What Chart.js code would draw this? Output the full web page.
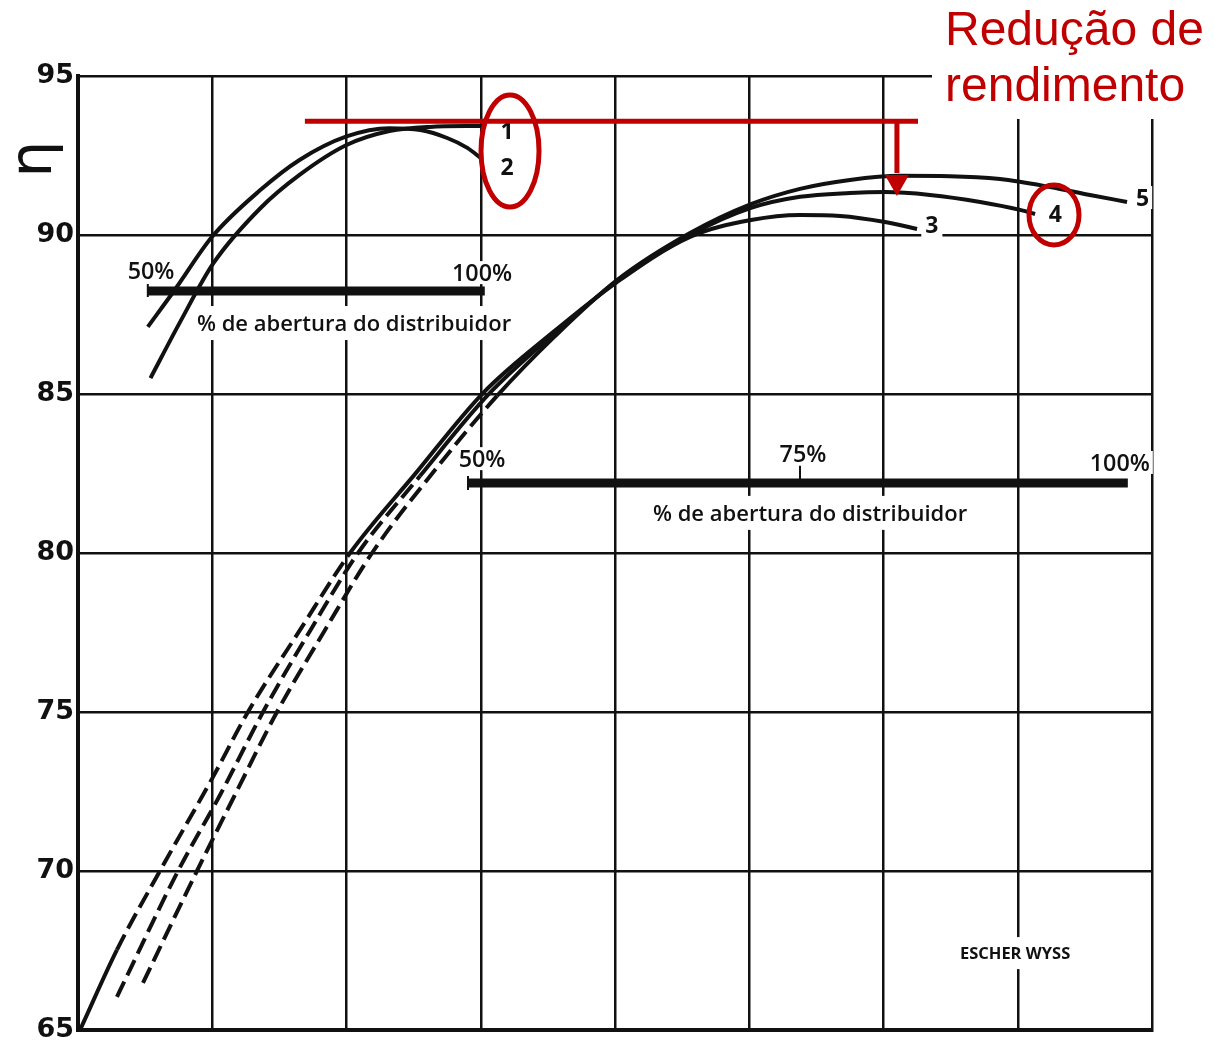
<!DOCTYPE html>
<html>
<head>
<meta charset="utf-8">
<script src="https://cdn.jsdelivr.net/npm/chart.js@4.4.1/dist/chart.umd.min.js"></script>
<style>
  html, body { margin: 0; padding: 0; background: #fff; }
  #wrap { width: 1215px; height: 1045px; }
</style>
</head>
<body>
<div id="wrap"><canvas id="eta" width="1215" height="1045"></canvas></div>
<script>
// 축 눈금
const yTicks = [65, 70, 75, 80, 85, 90, 95];

// 곡선 1 (왼쪽 위, 끝까지 평평)
const curve1X = [0.54, 0.76, 1.01, 1.36, 1.65, 2.00, 2.32, 2.62, 3.01];
const curve1Y = [85.50, 87.26, 89.12, 90.85, 91.89, 92.83, 93.27, 93.40, 93.43];

// 곡선 2 (왼쪽 위, 끝에서 떨어짐)
const curve2X = [0.52, 0.72, 1.00, 1.36, 1.65, 2.00, 2.32, 2.55, 2.75, 2.90, 3.00];
const curve2Y = [87.11, 88.27, 89.95, 91.42, 92.36, 93.10, 93.36, 93.30, 93.05, 92.74, 92.42];

// 곡선 3
const curve3X = [0.015, 0.29, 0.61, 1.006, 1.266, 1.654, 2.026, 2.51, 3.017, 3.523, 4.015, 4.559, 5.013, 5.378, 5.676, 6.011, 6.25];
const curve3Y = [65.0, 67.52, 70.0, 72.96, 75.0, 77.58, 80.0, 82.48, 85.03, 86.89, 88.52, 89.94, 90.47, 90.63, 90.60, 90.41, 90.19];

// 곡선 4
const curve4X = [0.29, 0.745, 1.058, 1.378, 1.728, 2.086, 2.547, 3.054, 3.538, 4.015, 4.559, 5.013, 5.378, 5.75, 6.011, 6.346, 6.72, 7.017, 7.129];
const curve4Y = [66.04, 70.0, 72.39, 75.0, 77.55, 80.0, 82.42, 84.97, 86.86, 88.55, 90.0, 90.85, 91.20, 91.32, 91.35, 91.26, 91.04, 90.79, 90.66];

// 곡선 5
const curve5X = [0.484, 0.886, 1.184, 1.482, 1.84, 2.19, 2.659, 3.121, 3.553, 4.015, 4.559, 5.013, 5.378, 5.75, 6.123, 6.495, 6.868, 7.24, 7.538, 7.814];
const curve5Y = [66.48, 70.0, 72.52, 75.0, 77.58, 80.0, 82.61, 84.94, 86.82, 88.58, 90.06, 90.97, 91.45, 91.73, 91.86, 91.85, 91.76, 91.51, 91.26, 91.04];

const curveNames = ['1', '2', '3', '4', '5'];

const INK = '#111';
const RED = '#C00000';
const DASH = [17, 7];

// 데이터셋 생성 (dashFrom ~ dashTo 구간은 점선)
function makeSet(name, xs, ys, dashFrom, dashTo) {
  return {
    label: name,
    data: xs.map((x, i) => ({ x: x, y: ys[i] })),
    borderColor: INK,
    borderWidth: 4,
    pointRadius: 0,
    fill: false,
    cubicInterpolationMode: 'monotone',
    segment: {
      borderDash: ctx => (ctx.p0DataIndex >= dashFrom && ctx.p0DataIndex < dashTo) ? DASH : undefined
    }
  };
}

function fitFont(ctx, text, width, weight, family) {
  ctx.font = weight + ' 100px ' + family;
  const size = 100 * width / ctx.measureText(text).width;
  return weight + ' ' + size.toFixed(1) + 'px ' + family;
}

// 흰 배경 위에 글자 (격자선을 끊는 효과)
function boxedText(ctx, text, cx, base, font, padX, padY) {
  ctx.font = font;
  const m = ctx.measureText(text);
  const w = m.width;
  ctx.fillStyle = '#fff';
  ctx.fillRect(cx - w / 2 - padX, base - m.actualBoundingBoxAscent - padY,
    w + 2 * padX, m.actualBoundingBoxAscent + m.actualBoundingBoxDescent + 2 * padY);
  ctx.fillStyle = INK;
  ctx.textAlign = 'center';
  ctx.textBaseline = 'alphabetic';
  ctx.fillText(text, cx, base);
}

const FAM = '"Open Sans"';

const backdrop = {
  id: 'backdrop',
  beforeDatasetsDraw(chart) {
    const ctx = chart.ctx;
    const X = v => chart.scales.x.getPixelForValue(v);
    const Y = v => chart.scales.y.getPixelForValue(v);
    ctx.save();

    // 오른쪽 위 제목 영역
    ctx.fillStyle = '#fff';
    ctx.fillRect(932, 0, 283, 119);

    // 분배기 개도 막대
    ctx.strokeStyle = INK;
    ctx.lineCap = 'butt';
    ctx.lineWidth = 9;
    ctx.beginPath();
    ctx.moveTo(X(0.52), Y(88.24));
    ctx.lineTo(X(3.03), Y(88.24));
    ctx.moveTo(X(2.905), Y(82.20));
    ctx.lineTo(X(7.82), Y(82.20));
    ctx.stroke();
    ctx.lineWidth = 2;
    ctx.beginPath();
    ctx.moveTo(X(0.52), Y(88.24) - 7); ctx.lineTo(X(0.52), Y(88.24) + 6);
    ctx.moveTo(X(2.905), Y(82.20) - 7); ctx.lineTo(X(2.905), Y(82.20) + 7);
    ctx.moveTo(X(5.378), Y(82.74)); ctx.lineTo(X(5.378), Y(82.20));
    ctx.stroke();

    const longTxt = '% de abertura do distribuidor';
    const fLong = fitFont(ctx, longTxt, 314, '600', FAM);
    const fPct = fitFont(ctx, '100%', 60, '600', FAM);
    boxedText(ctx, '50%', X(0.544), Y(88.62), fPct, 3, 3);
    boxedText(ctx, '100%', X(3.01), Y(88.55), fPct, 3, 3);
    boxedText(ctx, longTxt, X(2.056), Y(86.98), fLong, 4, 9);
    boxedText(ctx, '50%', X(3.01), Y(82.70), fPct, 3, 3);
    boxedText(ctx, '75%', X(5.40), Y(82.86), fPct, 3, 3);
    boxedText(ctx, '100%', X(7.76), Y(82.58), fPct, 3, 3);
    boxedText(ctx, longTxt, X(5.453), Y(81.01), fLong, 4, 9);

    boxedText(ctx, 'ESCHER WYSS', X(6.98), Y(67.23), fitFont(ctx, 'ESCHER WYSS', 110, 'bold', FAM), 4, 10);

    // 곡선 번호
    const fNum = 'bold 23px ' + FAM;
    boxedText(ctx, curveNames[0], X(3.196), Y(93.02), fNum, 2, 2);
    boxedText(ctx, curveNames[1], X(3.196), Y(91.89), fNum, 2, 2);
    boxedText(ctx, curveNames[2], X(6.36), Y(90.06), fNum, 4, 4);
    boxedText(ctx, curveNames[3], X(7.28), Y(90.41), fNum, 3, 3);
    boxedText(ctx, curveNames[4], X(7.93), Y(90.91), fNum, 3, 3);

    // η 축 제목
    ctx.translate(42, 159);
    ctx.rotate(-Math.PI / 2);
    ctx.font = '58px "DejaVu Sans"';
    ctx.fillStyle = INK;
    ctx.textAlign = 'center';
    ctx.textBaseline = 'alphabetic';
    ctx.fillText('η', 0, 9);
    ctx.restore();
  }
};

const redMarks = {
  id: 'redMarks',
  afterDraw(chart) {
    const ctx = chart.ctx;
    const X = v => chart.scales.x.getPixelForValue(v);
    const Y = v => chart.scales.y.getPixelForValue(v);
    ctx.save();
    ctx.strokeStyle = RED;
    ctx.fillStyle = RED;
    ctx.lineWidth = 5;

    // 최고 효율 기준선 + 화살표
    const yTop = Y(93.58);
    ctx.beginPath();
    ctx.moveTo(X(1.69), yTop);
    ctx.lineTo(X(6.257), yTop);
    ctx.moveTo(X(6.10), yTop);
    ctx.lineTo(X(6.10), Y(91.95));
    ctx.stroke();
    ctx.beginPath();
    ctx.moveTo(X(6.10) - 12, Y(91.89));
    ctx.lineTo(X(6.10) + 12, Y(91.89));
    ctx.lineTo(X(6.10), Y(91.23));
    ctx.closePath();
    ctx.fill();

    // 타원 표시
    ctx.beginPath();
    ctx.ellipse(X(3.218), Y(92.64), 29, 56, 0, 0, Math.PI * 2);
    ctx.stroke();
    ctx.beginPath();
    ctx.ellipse(X(7.27), Y(90.63), 25, 30, 0, 0, Math.PI * 2);
    ctx.stroke();

    ctx.font = '48px "Liberation Sans"';
    ctx.textAlign = 'left';
    ctx.textBaseline = 'alphabetic';
    ctx.fillText('Redução de', 945, 45);
    ctx.fillText('rendimento', 945, 101);
    ctx.restore();
  }
};

new Chart(document.getElementById('eta'), {
  type: 'line',
  data: {
    datasets: [
      makeSet(curveNames[0], curve1X, curve1Y, 0, 0),
      makeSet(curveNames[1], curve2X, curve2Y, 0, 0),
      makeSet(curveNames[2], curve3X, curve3Y, 1, 6),
      makeSet(curveNames[3], curve4X, curve4Y, 0, 6),
      makeSet(curveNames[4], curve5X, curve5Y, 0, 7)
    ]
  },
  options: {
    responsive: false,
    devicePixelRatio: 1,
    animation: false,
    layout: { padding: { left: 0, top: 76, right: 63, bottom: 15 } },
    plugins: { legend: { display: false }, tooltip: { enabled: false } },
    scales: {
      x: {
        type: 'linear',
        min: 0,
        max: 8,
        ticks: { display: false, stepSize: 1 },
        grid: { color: INK, lineWidth: 2.5, drawTicks: false },
        border: { color: INK, width: 4 },
        afterFit: s => { s.height = 0; }
      },
      y: {
        min: 65,
        max: 95,
        afterBuildTicks: s => { s.ticks = yTicks.map(v => ({ value: v })); },
        ticks: {
          color: INK,
          padding: 4,
          font: { family: 'DejaVu Sans', size: 27, weight: 'bold' }
        },
        grid: { color: INK, lineWidth: 2.5, drawTicks: false },
        border: { color: INK, width: 4 },
        afterFit: s => { s.width = 78; s.paddingTop = 0; s.paddingBottom = 0; }
      }
    }
  },
  plugins: [backdrop, redMarks]
});
</script>
</body>
</html>
